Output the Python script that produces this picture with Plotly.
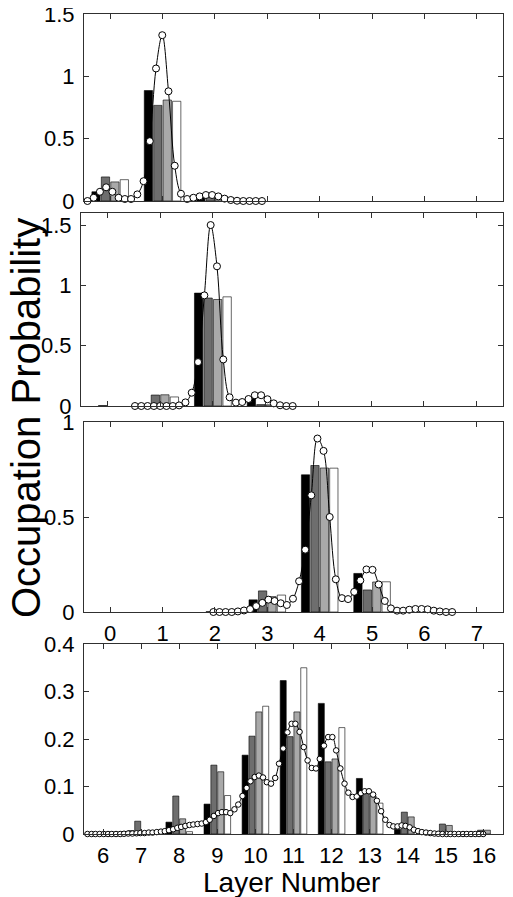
import plotly.graph_objects as go

# ---------------- data ----------------
layers_top = [0, 1, 2, 3, 4, 5, 6, 7]
layers_bottom = [6, 7, 8, 9, 10, 11, 12, 13, 14, 15, 16]

# panel 1 bars
p1_black = [0.074, 0.886, 0.04, 0, 0, 0, 0, 0]
p1_dgray = [0.193, 0.767, 0.035, 0, 0, 0, 0, 0]
p1_lgray = [0.153, 0.81, 0.02, 0, 0, 0, 0, 0]
p1_white = [0.171, 0.80, 0.01, 0, 0, 0, 0, 0]
# panel 1 curve
p1_cx = [-0.434, -0.315, -0.196, -0.077, 0.042, 0.161, 0.280, 0.399, 0.518, 0.637,
         0.756, 0.875, 0.994, 1.113, 1.232, 1.351, 1.470, 1.589, 1.708, 1.827,
         1.946, 2.065, 2.184, 2.303, 2.422, 2.541, 2.660, 2.779, 2.898]
p1_cy = [0.0, 0.026, 0.074, 0.110, 0.074, 0.026, 0.016, 0.016, 0.053, 0.159,
         0.48, 1.063, 1.33, 0.88, 0.283, 0.058, 0.016, 0.026, 0.037, 0.048,
         0.048, 0.037, 0.019, 0.008, 0.002, 0, 0, 0, 0]

# panel 2 bars
p2_black = [0, 0, 0.936, 0.065, 0, 0, 0, 0]
p2_dgray = [0.004, 0.091, 0.895, 0.012, 0, 0, 0, 0]
p2_lgray = [0, 0.093, 0.883, 0.01, 0, 0, 0, 0]
p2_white = [0, 0.075, 0.905, 0.005, 0, 0, 0, 0]
# panel 2 curve
p2_cx = [0.523, 0.643, 0.762, 0.882, 1.001, 1.121, 1.241, 1.360, 1.480, 1.599,
         1.719, 1.839, 1.958, 2.078, 2.197, 2.317, 2.437, 2.556, 2.676, 2.795,
         2.915, 3.035, 3.154, 3.274, 3.393, 3.513]
p2_cy = [0, 0, 0, 0, 0, 0, 0, 0.005, 0.03, 0.11,
         0.364, 0.917, 1.5, 1.158, 0.386, 0.072, 0.028, 0.033, 0.058, 0.089,
         0.089, 0.056, 0.022, 0.006, 0, 0]

# panel 3 bars
p3_black = [0, 0, 0, 0.064, 0.722, 0.203, 0, 0]
p3_dgray = [0, 0, 0.002, 0.111, 0.771, 0.116, 0, 0]
p3_lgray = [0, 0, 0, 0.081, 0.758, 0.158, 0, 0]
p3_white = [0, 0, 0, 0.089, 0.757, 0.159, 0, 0]
# panel 3 curve
p3_cx = [1.970, 2.087, 2.204, 2.321, 2.438, 2.555, 2.671, 2.788, 2.905, 3.022,
         3.139, 3.256, 3.373, 3.490, 3.607, 3.724, 3.840, 3.957, 4.074, 4.191,
         4.308, 4.425, 4.542, 4.659, 4.776, 4.893, 5.009, 5.126, 5.243, 5.360,
         5.477, 5.594, 5.711, 5.828, 5.945, 6.062, 6.179, 6.295, 6.412, 6.529]
p3_cy = [0, 0, 0, 0, 0.003, 0.008, 0.015, 0.031, 0.048, 0.065,
         0.058, 0.046, 0.037, 0.07, 0.162, 0.328, 0.614, 0.913, 0.848, 0.5,
         0.172, 0.073, 0.068, 0.106, 0.166, 0.224, 0.222, 0.145, 0.058, 0.019,
         0.007, 0.007, 0.012, 0.016, 0.016, 0.014, 0.007, 0.003, 0, 0]

# panel 4 bars
p4_black = [0, 0.007, 0.025, 0.063, 0.166, 0.323, 0.275, 0.117, 0.010, 0, 0]
p4_dgray = [0, 0.027, 0.080, 0.145, 0.206, 0.205, 0.152, 0.093, 0.046, 0.021, 0.008]
p4_lgray = [0, 0, 0.032, 0.131, 0.257, 0.257, 0.158, 0.080, 0.036, 0.018, 0.008]
p4_white = [0, 0, 0.005, 0.081, 0.269, 0.350, 0.224, 0.065, 0, 0, 0]
# panel 4 curve
p4_cx = [5.59, 5.70, 5.80, 5.91, 6.02, 6.13, 6.23, 6.34, 6.45, 6.55,
         6.66, 6.77, 6.88, 6.98, 7.09, 7.20, 7.30, 7.41, 7.52, 7.62,
         7.73, 7.84, 7.95, 8.05, 8.16, 8.27, 8.37, 8.48, 8.59, 8.70,
         8.80, 8.91, 9.02, 9.12, 9.23, 9.34, 9.45, 9.55, 9.66, 9.77,
         9.87, 9.98, 10.09, 10.20, 10.30, 10.41, 10.52, 10.62, 10.73, 10.84,
         10.95, 11.05, 11.16, 11.27, 11.37, 11.48, 11.59, 11.69, 11.80, 11.91,
         12.02, 12.12, 12.23, 12.34, 12.44, 12.55, 12.66, 12.77, 12.87, 12.98,
         13.09, 13.19, 13.30, 13.41, 13.52, 13.62, 13.73, 13.84, 13.94, 14.05,
         14.16, 14.27, 14.37, 14.48, 14.59, 14.70, 14.80, 14.91, 15.02, 15.12,
         15.23, 15.34, 15.45, 15.55, 15.66, 15.77, 15.87, 15.98]
p4_cy = [0, 0, 0, 0, 0, 0, 0, 0, 0, 0.0005,
         0.001, 0.001, 0.0015, 0.002, 0.002, 0.003, 0.003, 0.004, 0.005, 0.006,
         0.008, 0.010, 0.013, 0.015, 0.017, 0.019, 0.020, 0.021, 0.022, 0.025,
         0.030, 0.038, 0.044, 0.046, 0.046, 0.044, 0.052, 0.062, 0.080, 0.097,
         0.111, 0.120, 0.123, 0.119, 0.109, 0.106, 0.118, 0.148, 0.180, 0.214,
         0.232, 0.232, 0.215, 0.183, 0.155, 0.139, 0.138, 0.158, 0.186, 0.204,
         0.204, 0.176, 0.138, 0.106, 0.087, 0.078, 0.079, 0.086, 0.090, 0.090,
         0.083, 0.070, 0.048, 0.030, 0.019, 0.016, 0.016, 0.018, 0.017, 0.014,
         0.009, 0.006, 0.004, 0.003, 0.002, 0.001, 0.0005, 0, 0, 0,
         0, 0, 0, 0, 0, 0, 0, 0]

y_ticks_1 = [0, 0.5, 1, 1.5]
y_ticks_3 = [0, 0.5, 1]
y_ticks_4 = [0, 0.1, 0.2, 0.3, 0.4]
y_text_1 = ["0", "0.5", "1", "1.5"]
y_text_3 = ["0", "0.5", "1"]
y_text_4 = ["0", "0.1", "0.2", "0.3", "0.4"]

bar_colors = ["#000000", "#6e6e6e", "#a9a9a9", "#ffffff"]

# ---------------- figure ----------------
W, H = 513, 897
OFF = 8  # page body margin offset applied by the browser
FONT = "Liberation Sans, Arial, Helvetica, sans-serif"
fig = go.Figure()

panels = [
    ("x", "y", layers_top, [p1_black, p1_dgray, p1_lgray, p1_white], p1_cx, p1_cy, 7),
    ("x2", "y2", layers_top, [p2_black, p2_dgray, p2_lgray, p2_white], p2_cx, p2_cy, 7),
    ("x3", "y3", layers_top, [p3_black, p3_dgray, p3_lgray, p3_white], p3_cx, p3_cy, 7),
    ("x4", "y4", layers_bottom, [p4_black, p4_dgray, p4_lgray, p4_white], p4_cx, p4_cy, 5.5),
]

for xa, ya, cats, series, cx, cy, msize in panels:
    for vals, col in zip(series, bar_colors):
        shown = [v if v > 0 else None for v in vals]
        fig.add_trace(go.Bar(
            x=cats, y=shown, xaxis=xa, yaxis=ya,
            marker=dict(color=col, line=dict(color="#000000", width=0.6)),
            showlegend=False, hoverinfo="skip"))
    fig.add_trace(go.Scatter(
        x=cx, y=cy, xaxis=xa, yaxis=ya, mode="lines+markers",
        line=dict(color="#000000", width=1, shape="spline", smoothing=1.0),
        marker=dict(symbol="circle", size=msize, color="#ffffff",
                    line=dict(color="#000000", width=1)),
        cliponaxis=False, showlegend=False, hoverinfo="skip"))


def px_x(p):
    return (p - OFF) / W


def px_y(p):
    return 1 - (p - OFF) / H


axis_common = dict(
    showline=True, linecolor="#303030", linewidth=1, mirror="allticks",
    ticks="inside", ticklen=5, tickwidth=1, tickcolor="#303030",
    showgrid=False, zeroline=False, automargin=False, ticklabeloverflow="allow",
    tickfont=dict(family=FONT, size=22, color="#000000"),
)

fig.update_layout(
    width=W, height=H, margin=dict(l=0, r=0, t=0, b=0, pad=0, autoexpand=False),
    paper_bgcolor="#ffffff", plot_bgcolor="#ffffff",
    barmode="group", bargap=0.28, bargroupgap=0.12,
    showlegend=False,
    xaxis=dict(axis_common, domain=[px_x(84), px_x(503)], range=[-0.5, 7.5],
               tickvals=layers_top, showticklabels=False, anchor="y"),
    yaxis=dict(axis_common, domain=[px_y(201), px_y(14)], range=[0, 1.5],
               tickvals=y_ticks_1, ticktext=y_text_1, anchor="x", ticklabelstandoff=4),
    xaxis2=dict(axis_common, domain=[px_x(81), px_x(503)], range=[-0.5, 7.5],
                tickvals=layers_top, showticklabels=False, anchor="y2"),
    yaxis2=dict(axis_common, domain=[px_y(406), px_y(213)], range=[0, 1.6],
                tickvals=y_ticks_1, ticktext=y_text_1, anchor="x2", ticklabelstandoff=4),
    xaxis3=dict(axis_common, domain=[px_x(84), px_x(503)], range=[-0.5, 7.5],
                tickvals=layers_top, ticktext=[str(v) for v in layers_top],
                anchor="y3", ticklabelstandoff=2),
    yaxis3=dict(axis_common, domain=[px_y(612), px_y(422)], range=[0, 1],
                tickvals=y_ticks_3, ticktext=y_text_3, anchor="x3", ticklabelstandoff=4),
    xaxis4=dict(axis_common, domain=[px_x(84), px_x(503)], range=[5.5, 16.5],
                tickvals=layers_bottom, ticktext=[str(v) for v in layers_bottom],
                anchor="y4", ticklabelstandoff=2),
    yaxis4=dict(axis_common, domain=[px_y(834), px_y(644)], range=[0, 0.4],
                tickvals=y_ticks_4, ticktext=y_text_4, anchor="x4", ticklabelstandoff=4),
    annotations=[
        dict(text="Occupation Probability", x=px_x(26), y=px_y(418), xref="paper",
             yref="paper", showarrow=False, textangle=-90,
             font=dict(family=FONT, size=40, color="#000000"),
             xanchor="center", yanchor="middle"),
        dict(text="Layer Number", x=px_x(291), y=px_y(882), xref="paper",
             yref="paper", showarrow=False,
             font=dict(family=FONT, size=28, color="#000000"),
             xanchor="center", yanchor="middle"),
    ],
)

fig.write_html("out.html")
